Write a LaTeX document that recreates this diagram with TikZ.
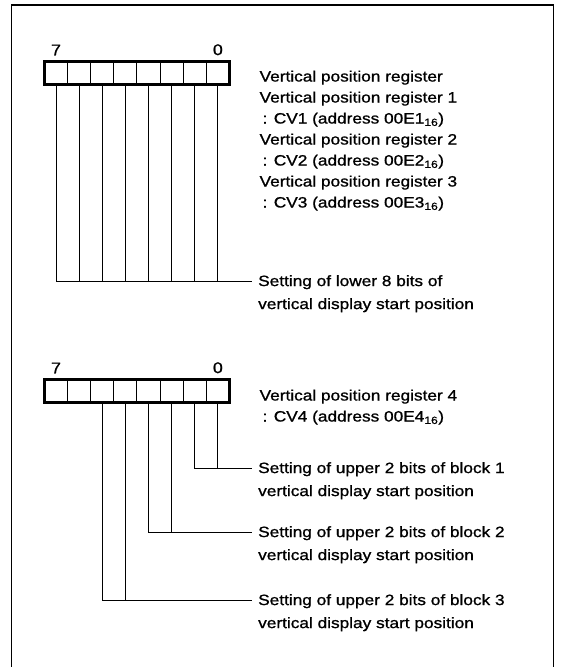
\documentclass[tikz,border=0pt]{standalone}
\usepackage{fontspec}
\setmainfont{Liberation Sans}[FakeStretch=1.15,FakeBold=1]
\usetikzlibrary{matrix,positioning}

\tikzset{
  regcell/.style={draw, line width=0.9pt, minimum width=23.125pt, minimum height=23pt, inner sep=0pt, outer sep=0pt},
  regbox/.style={draw, line width=2.2pt},
  wire/.style={line width=0.9pt},
  frameline/.style={line width=1.6pt},
  bitlbl/.style={inner sep=0pt, font=\fontsize{15.5}{18}\selectfont},
  desc/.style={inner sep=0pt, align=left, anchor=north west, font=\fontsize{15}{21}\selectfont},
  note/.style={inner sep=0pt, align=left, anchor=north west, font=\fontsize{15}{23}\selectfont},
}

\begin{document}
\begin{tikzpicture}[x=1pt,y=-1pt]
\useasboundingbox (0,0) rectangle (562,667);
% frame, open at the bottom
\draw[frameline] (11.5,667) -- (11.5,5) -- (553.5,5) -- (553.5,667);

% register CV1 -- CV3
\matrix (regA) [matrix of nodes, nodes in empty cells, nodes={regcell},
    column sep=-0.9pt, inner sep=0pt, outer sep=0pt, anchor=north west] at (44,61)
    { & & & & & & & \\};
\draw[regbox] (regA-1-1.north west) rectangle (regA-1-8.south east);
\node[bitlbl, above=6pt of regA-1-1.north] (hiA) {7};
\node[bitlbl, above=6pt of regA-1-8.north] (loA) {0};

\node[desc] (descA) at ([xshift=30pt,yshift=-9pt]regA-1-8.north east)
  {Vertical position register\\
   Vertical position register 1\\
   \hspace{3pt}: CV1 (address 00E1\textsubscript{16})\\
   Vertical position register 2\\
   \hspace{3pt}: CV2 (address 00E2\textsubscript{16})\\
   Vertical position register 3\\
   \hspace{3pt}: CV3 (address 00E3\textsubscript{16})};

\coordinate (endA) at (252,281);
\foreach \c in {1,...,8}
  \draw[wire] (regA-1-\c.south) -- (regA-1-\c.south |- endA);
\draw[wire] (regA-1-1.south |- endA) -- (endA);
\node[note] (noteA) at ([xshift=6pt,yshift=6pt]endA)
  {Setting of lower 8 bits of\\vertical display start position};

% register CV4
\matrix (regB) [matrix of nodes, nodes in empty cells, nodes={regcell},
    column sep=-0.9pt, inner sep=0pt, outer sep=0pt, anchor=north west] at (44,379)
    { & & & & & & & \\};
\draw[regbox] (regB-1-1.north west) rectangle (regB-1-8.south east);
\node[bitlbl, above=6pt of regB-1-1.north] (hiB) {7};
\node[bitlbl, above=6pt of regB-1-8.north] (loB) {0};

\node[desc] (descB) at ([xshift=30pt,yshift=-10pt]regB-1-8.north east)
  {Vertical position register 4\\
   \hspace{3pt}: CV4 (address 00E4\textsubscript{16})};

\coordinate (endB1) at (252,468);
\coordinate (endB2) at (252,532);
\coordinate (endB3) at (252,600);
\foreach \a/\b/\e/\n in {7/8/endB1/1, 5/6/endB2/2, 3/4/endB3/3} {
  \draw[wire] (regB-1-\a.south) |- (\e);
  \draw[wire] (regB-1-\b.south) -- (regB-1-\b.south |- \e);
  \node[note] (noteB\n) at ([xshift=6pt,yshift=6pt]\e)
    {Setting of upper 2 bits of block \n\\vertical display start position};
}
\end{tikzpicture}
\end{document}
